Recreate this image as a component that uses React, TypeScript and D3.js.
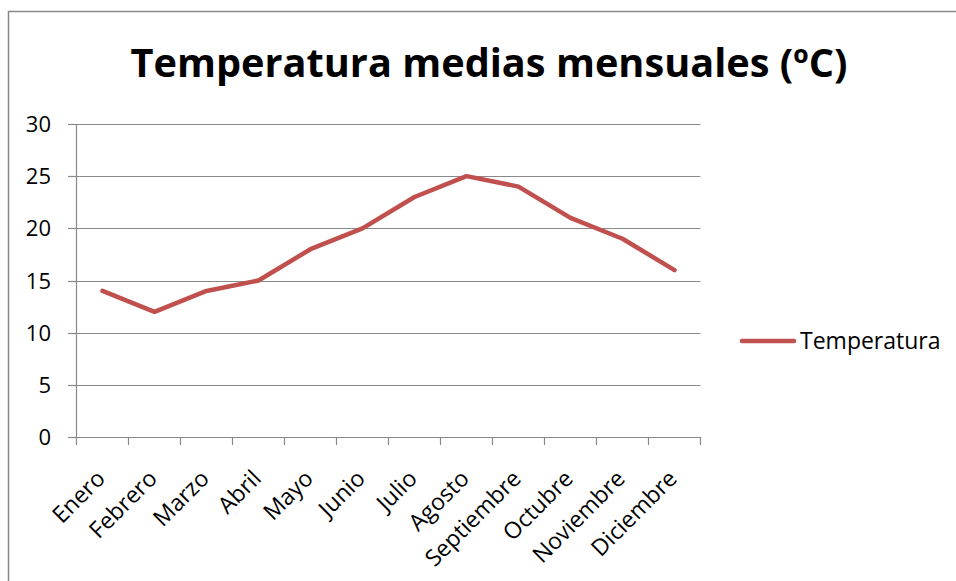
import React from "react";
import * as d3 from "d3";

const months = ["Enero", "Febrero", "Marzo", "Abril", "Mayo", "Junio", "Julio", "Agosto", "Septiembre", "Octubre", "Noviembre", "Diciembre"];
const temperatures = [14, 12, 14, 15, 18, 20, 23, 25, 24, 21, 19, 16];
const yTicks = [0, 5, 10, 15, 20, 25, 30];
const seriesName = "Temperatura";
const title = "Temperatura medias mensuales (ºC)";

const W = 956, H = 581;
const plot = { left: 76.5, right: 700.5, top: 124, bottom: 437 };
const font = "'Open Sans', 'DejaVu Sans', sans-serif";
const red = "#C0504D";
const gray = "#898989";

export default function App() {
  const x = d3.scaleBand<string>().domain(months).range([plot.left, plot.right]);
  const y = d3.scaleLinear().domain([0, 30]).range([plot.bottom, plot.top]);
  const line = d3.line<number>()
    .x((_, i) => (x(months[i]) as number) + x.bandwidth() / 2)
    .y((d) => y(d));
  const tickXs = months.map((m) => x(m) as number).concat([plot.right]);

  return (
    <svg width={W} height={H} style={{ position: "absolute", left: 0, top: 0, background: "#fff" }}>
      <rect x={8.5} y={11.5} width={W + 10} height={H + 10} fill="#fff" stroke={gray} strokeWidth={1.5} />
      <text x={489} y={77} textAnchor="middle" fontFamily={font} fontWeight="bold" fontSize={39} textLength={717} lengthAdjust="spacingAndGlyphs" fill="#000">
        {title}
      </text>
      {yTicks.map((t) => (
        <g key={t}>
          <line x1={plot.left} x2={plot.right} y1={Math.round(y(t)) + 0.5} y2={Math.round(y(t)) + 0.5} stroke={gray} strokeWidth={1.2} />
          <line x1={68} x2={plot.left} y1={Math.round(y(t)) + 0.5} y2={Math.round(y(t)) + 0.5} stroke={gray} strokeWidth={1.2} />
          <text x={51} y={y(t) + 8} textAnchor="end" fontFamily={font} fontSize={22} fill="#000">{t}</text>
        </g>
      ))}
      <line x1={plot.left} x2={plot.left} y1={plot.top} y2={plot.bottom} stroke={gray} strokeWidth={1.2} />
      {tickXs.map((tx, i) => (
        <line key={i} x1={tx} x2={tx} y1={plot.bottom} y2={plot.bottom + 8} stroke={gray} strokeWidth={1.2} />
      ))}
      {months.map((m) => {
        const cx = (x(m) as number) + x.bandwidth() / 2 + 4;
        const cy = plot.bottom + 43;
        return (
          <text key={m} transform={`translate(${cx},${cy}) rotate(-45)`} textAnchor="end" fontFamily={font} fontSize={23} fill="#000">
            {m}
          </text>
        );
      })}
      <path d={line(temperatures) || ""} fill="none" stroke={red} strokeWidth={4.5} strokeLinejoin="round" strokeLinecap="round" />
      <line x1={742} x2={794} y1={341} y2={341} stroke={red} strokeWidth={4.5} strokeLinecap="round" />
      <text x={800} y={348.5} fontFamily={font} fontSize={23} fill="#000">{seriesName}</text>
    </svg>
  );
}
